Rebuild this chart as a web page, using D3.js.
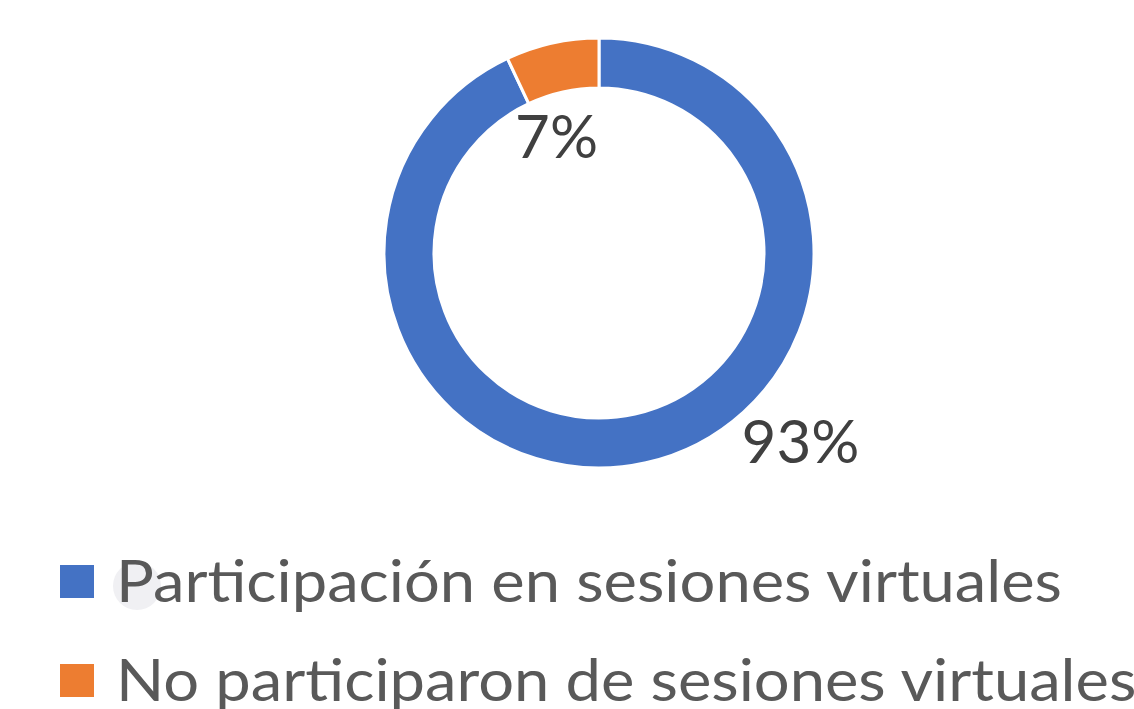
<!DOCTYPE html>
<html>
<head>
<meta charset="utf-8">
<script src="https://cdn.jsdelivr.net/npm/d3@7"></script>
<style>
  html, body { margin: 0; padding: 0; background: #fff; overflow: hidden; }
  svg { display: block; }
</style>
</head>
<body>
<svg></svg>
<script>
const categories = ['Participación en sesiones virtuales', 'No participaron de sesiones virtuales'];
const values = [93, 7];
const colors = ['#4472C4', '#ED7D31'];

const WIDTH = 1134;
const HEIGHT = 709;
const CENTER = { x: 599, y: 253 };
const OUTER_R = 215;
const INNER_R = 165;
const FONT = 'Lato, "Open Sans", "Noto Sans", sans-serif';

// label offsets from arc centroid (Excel "best fit" places them off the ring)
const labelOffsets = [[160, 25], [-1, 90]];

const svg = d3.select('svg')
    .attr('width', WIDTH)
    .attr('height', HEIGHT);

const data = categories.map((c, i) => ({ name: c, value: values[i], color: colors[i] }));

const pie = d3.pie().value(d => d.value).sort(null);
const arc = d3.arc().innerRadius(INNER_R).outerRadius(OUTER_R);

const chart = svg.append('g')
    .attr('transform', `translate(${CENTER.x}, ${CENTER.y})`);

const arcs = pie(data);

chart.selectAll('.slice')
    .data(arcs)
    .enter()
    .append('path')
    .classed('slice', true)
    .attr('d', arc)
    .attr('fill', d => d.data.color)
    .attr('stroke', '#fff')
    .attr('stroke-width', 3);

const total = d3.sum(values);
chart.selectAll('.label')
    .data(arcs)
    .enter()
    .append('text')
    .classed('label', true)
    .attr('x', (d, i) => arc.centroid(d)[0] + labelOffsets[i][0])
    .attr('y', (d, i) => arc.centroid(d)[1] + labelOffsets[i][1])
    .attr('text-anchor', 'middle')
    .attr('font-family', FONT)
    .attr('font-size', 60)
    .attr('fill', '#404040')
    .text(d => Math.round(d.data.value / total * 100) + '%');

// legend
const legend = svg.append('g');

// faint touch marker seen behind the first legend entry
legend.append('circle')
    .attr('cx', 137)
    .attr('cy', 586)
    .attr('r', 24)
    .attr('fill', '#f0f0f3');

const items = legend.selectAll('.item')
    .data(data)
    .enter()
    .append('g')
    .classed('item', true)
    .attr('transform', (d, i) => `translate(60, ${565 + i * 99})`);

items.append('rect')
    .attr('width', 34)
    .attr('height', 33)
    .attr('fill', d => d.color);

const texts = items.append('text')
    .attr('x', 56)
    .attr('y', 37)
    .attr('font-family', FONT)
    .attr('font-size', 58)
    .attr('fill', '#595959')
    .text(d => d.name);

// squeeze to Calibri-like width
const natural = texts.nodes().map(n => n.getComputedTextLength());
const ratio = 946 / natural[0];
texts.attr('textLength', (d, i) => natural[i] * ratio)
    .attr('lengthAdjust', 'spacingAndGlyphs');
</script>
</body>
</html>
